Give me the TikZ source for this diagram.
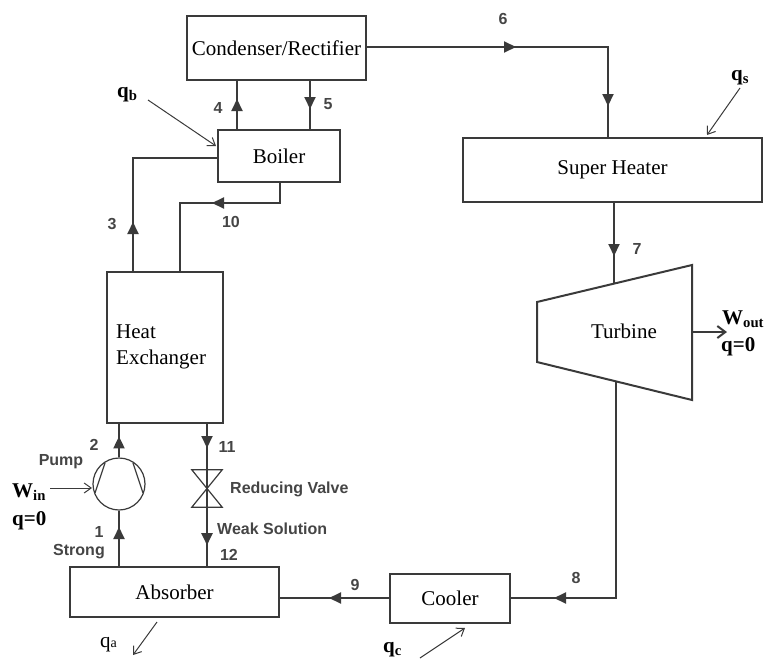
\documentclass[tikz,border=0pt]{standalone}
\usepackage{fontspec}
\setmainfont{Liberation Serif}
\setsansfont{Liberation Sans}
\usetikzlibrary{arrows.meta,decorations.markings}

\definecolor{pipe}{HTML}{3A3A3A}
\definecolor{numgray}{HTML}{454545}
\newcommand\unitfont{\fontsize{21}{26}\selectfont}
\newcommand\numfont{\fontsize{16}{18}\selectfont\sffamily\bfseries}
\newcommand\heavyfont{\fontsize{21}{23}\selectfont\bfseries}

\tikzset{
        pipe/.style={draw=pipe, line width=2pt},
        unit/.style={draw=pipe, line width=2pt, inner sep=0pt, font=\unitfont},
        num/.style={text=numgray, font=\numfont, inner sep=0pt},
        heavy/.style={font=\heavyfont, inner sep=0pt, anchor=base west},
        heat/.style={draw=pipe, line width=1pt, -{Straight Barb[length=7pt,width=10pt]}},
        tip/.style={postaction={decorate}, decoration={markings,
                mark=at position #1 with {\arrow{Triangle[length=12pt,width=11pt]}}}},
        tips/.style 2 args={postaction={decorate}, decoration={markings,
                mark=at position #1 with {\arrow{Triangle[length=12pt,width=11pt]}},
                mark=at position #2 with {\arrow{Triangle[length=12pt,width=11pt]}}}}
}

\begin{document}
\begin{tikzpicture}[x=1pt, y=-1pt]
        \useasboundingbox (0,0) rectangle (777,659);

        \node (cond) at (276.5,48) [unit, minimum width=179, minimum height=64] {Condenser/Rectifier};
        \node (boiler) at (279,156) [unit, minimum width=122, minimum height=52] {Boiler};
        \node (hx) at (165,347.5) [unit, minimum width=116, minimum height=151] {};
        \node (hxtext) at (116,347) [anchor=west, align=left, font=\unitfont, inner sep=0pt] {Heat\\Exchanger};
        \node (absorber) at (174.5,592) [unit, minimum width=209, minimum height=50] {Absorber};
        \node (cooler) at (450,598) [unit, minimum width=120, minimum height=49] {Cooler};
        \node (sheater) at (612.5,170) [unit, minimum width=299, minimum height=64] {Super Heater};
        \node (pump) at (119,484) [circle, draw=pipe, line width=1.2pt, minimum size=52, inner sep=0pt] {};
        \node (valve) at (207,488.5) [minimum width=30, minimum height=37, inner sep=0pt] {};

        % turbine
        \draw[pipe, line join=miter] (537,302) -- (692,265) -- (692,400) -- (537,362) -- cycle;
        \node (turbine) at (624,331) [font=\unitfont] {Turbine};
        \coordinate (tin) at (614,284);
        \coordinate (tout) at (616,381);
        \coordinate (tshaft) at (692,332);
        \coordinate (wout) at (727,332);

        % pump and valve symbols
        \draw[draw=pipe, line width=1.2pt] ([shift={(-14,-21)}]pump.center) -- ([shift={(-24,9)}]pump.center);
        \draw[draw=pipe, line width=1.2pt] ([shift={(14,-21)}]pump.center) -- ([shift={(24,9)}]pump.center);
        \draw[draw=pipe, line width=1.2pt, line join=miter] (valve.north west) -- (valve.north east) -- (valve.south west) -- (valve.south east) -- cycle;

        % flow lines
        \draw[pipe, tip=30pt] (boiler.north -| 237,0) -- (cond.south -| 237,0);
        \draw[pipe, tip=28pt] (cond.south -| 310,0) -- (boiler.north -| 310,0);
        \draw[pipe, tip=49pt] (hx.north -| 133,0) |- (boiler.west |- 0,158);
        \draw[pipe, tip=88pt] (boiler.south -| 280,0) -- (280,203) -| (hx.north -| 180,0);
        \draw[pipe, tips={149pt}{300pt}] (cond.east |- 0,47) -| (sheater.north -| 608,0);
        \draw[pipe, tip=53pt] (sheater.south -| 614,0) -- (tin);
        \draw[pipe, tip=279pt] (tout) |- (cooler.east);
        \draw[pipe, tip=60pt] (cooler.west) -- (absorber.east |- cooler.west);
        \draw[pipe, tip=39pt] (absorber.north -| pump.south) -- (pump.south);
        \draw[pipe, tip=21pt] (pump.north) -- (hx.south -| pump.north);
        \draw[pipe, tip=24pt] (hx.south -| valve.north) -- (valve.north);
        \draw[draw=pipe, line width=1.2pt] (valve.north) -- (valve.south);
        \draw[pipe, tip=38pt] (valve.south) -- (absorber.north -| valve.south);
        \draw[draw=pipe, line width=2pt, -{Straight Barb[length=8pt,width=12pt]}] (tshaft) -- (wout);

        % state numbers
        \node (n1) at (99,532) [num] {1};
        \node (n2) at (94,445) [num] {2};
        \node (n3) at (112,224) [num] {3};
        \node (n4) at (218,108) [num] {4};
        \node (n5) at (328,104) [num] {5};
        \node (n6) at (503,19) [num] {6};
        \node (n7) at (637,249) [num] {7};
        \node (n8) at (576,578) [num] {8};
        \node (n9) at (355,585) [num] {9};
        \node (n10) at (231,222) [num] {10};
        \node (n11) at (227,447) [num] {11};
        \node (n12) at (229,555) [num] {12};
        \node (lpump) at (61,462) [num] {Pump};
        \node (lstrong) at (79,552) [num] {Strong};
        \node (lvalve) at (230,489) [num, anchor=west] {Reducing Valve};
        \node (lweak) at (217,529) [num, anchor=west] {Weak Solution};

        % heat and work
        \node (qb) at (117,97) [heavy] {q\textsubscript{b}};
        \node (qs) at (731,80) [heavy] {q\textsubscript{s}};
        \node (qc) at (383,652) [heavy] {q\textsubscript{c}};
        \node (qa) at (100,647) [font=\unitfont, inner sep=0pt, anchor=base west] {q{\fontsize{14}{14}\selectfont a}};
        \node (win) at (12,497) [heavy] {W\textsubscript{in}};
        \node (qin) at (12,525) [heavy] {q=0};
        \node (wo) at (722,324) [heavy] {W\textsubscript{out}};
        \node (qout) at (721,351) [heavy] {q=0};
        \coordinate (qbs) at (148,100);
        \coordinate (qss) at (740,88);
        \coordinate (qae) at (133,655);
        \coordinate (qcs) at (420,658);
        \coordinate (wins) at (50,488);
        \draw[heat] (qbs) -- (216,146);
        \draw[heat] (qss) -- (707,135);
        \draw[heat] (157,622) -- (qae);
        \draw[heat] (qcs) -- (465,628);
        \draw[heat] (wins) -- ([shift={(-27,4)}]pump.center);
\end{tikzpicture}
\end{document}
